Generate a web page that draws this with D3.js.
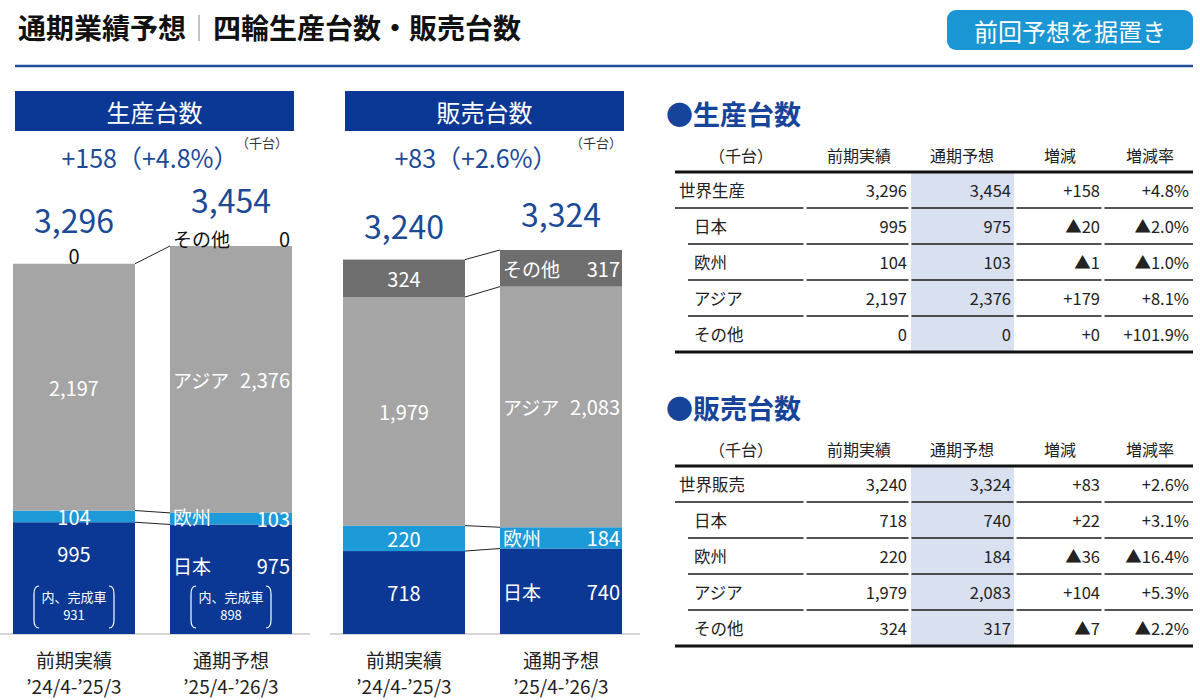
<!DOCTYPE html>
<html lang="ja">
<head>
<meta charset="utf-8">
<title>通期業績予想 四輪生産台数・販売台数</title>
<script src="https://d3js.org/d3.v7.min.js"></script>
<style>
  body{margin:0;background:#fff;font-family:"Noto Sans CJK JP","Noto Sans",sans-serif;}
  svg text{font-family:"Noto Sans CJK JP","Noto Sans",sans-serif;}
</style>
</head>
<body>
<div id="chart"></div>
<script>
// ---- data ----
const regions = ["日本","欧州","アジア","その他"]
const periods = ["前期実績","通期予想"]
const periodSpans = ["’24/4-’25/3","’25/4-’26/3"]

const prodPrev = [995,104,2197,0]
const prodPlan = [975,103,2376,0]
const prodTotals = [3296,3454]
const prodFinished = [931,898]

const salesPrev = [718,220,1979,324]
const salesPlan = [740,184,2083,317]
const salesTotals = [3240,3324]

const prodDiff = ["+158","▲20","▲1","+179","+0"]
const prodRate = ["+4.8%","▲2.0%","▲1.0%","+8.1%","+101.9%"]
const salesDiff = ["+83","+22","▲36","+104","▲7"]
const salesRate = ["+2.6%","+3.1%","▲16.4%","+5.3%","▲2.2%"]
const tableHead = ["（千台）","前期実績","通期予想","増減","増減率"]

// ---- setup ----
const W = 1200, H = 700
const navy = "#0b3894", textBlue = "#1b4a97"
const colors = {"日本":"#0b3894","欧州":"#1d9bd8","アジア":"#a5a5a5","その他":"#6e6e6e"}
const fmt = d3.format(",")

const svg = d3.select("#chart").append("svg")
  .attr("width",W).attr("height",H)

// title
svg.append("text").attr("x",18).attr("y",39)
  .attr("font-size",28).attr("font-weight","bold").attr("fill","#111").text("通期業績予想")
svg.append("line").attr("x1",199).attr("x2",199).attr("y1",15).attr("y2",41)
  .attr("stroke","#999").attr("stroke-width",1.2)
svg.append("text").attr("x",213).attr("y",39)
  .attr("font-size",28).attr("font-weight","bold").attr("fill","#111").text("四輪生産台数・販売台数")

svg.append("line").attr("x1",15).attr("x2",1193).attr("y1",66).attr("y2",66)
  .attr("stroke","#1f4f9c").attr("stroke-width",2.5)

svg.append("rect").attr("x",947).attr("y",10).attr("width",246).attr("height",40)
  .attr("rx",9).attr("fill","#1a96d4")
svg.append("text").attr("x",1070).attr("y",30).attr("text-anchor","middle")
  .attr("dominant-baseline","central").attr("font-size",24).attr("fill","#fff")
  .text("前回予想を据置き")

// ---- stacked bar panels ----
function drawPanel(cfg){
  const g = svg.append("g")
  const x = d3.scaleBand().domain(periods).range([cfg.x0,cfg.x1]).paddingInner(0.223)
  const y = d3.scaleLinear().domain([0,cfg.totals[1]]).range([634,cfg.topPx])
  const rows = periods.map((p,i)=>{
    const r = {period:p}
    regions.forEach((k,j)=>{ r[k] = i==0 ? cfg.prev[j] : cfg.plan[j] })
    return r
  })
  const layers = d3.stack().keys(regions)(rows)
  const bw = x.bandwidth()

  // header box
  g.append("rect").attr("x",cfg.x0+2).attr("y",91).attr("width",cfg.x1-cfg.x0).attr("height",40)
    .attr("fill",navy)
  g.append("text").attr("x",(cfg.x0+cfg.x1)/2+2).attr("y",111).attr("text-anchor","middle")
    .attr("dominant-baseline","central").attr("font-size",24).attr("fill","#fff").text(cfg.title)

  // change subtitle
  g.append("text").attr("x",cfg.subX).attr("y",168).attr("text-anchor","middle")
    .attr("font-size",25).attr("fill",textBlue).text(cfg.sub)
  g.append("text").attr("x",cfg.subX+cfg.noteDx).attr("y",148)
    .attr("font-size",13).attr("fill","#333").text("（千台）")

  // baseline
  g.append("line").attr("x1",cfg.x0-13).attr("x2",cfg.x1+18).attr("y1",y(0)).attr("y2",y(0))
    .attr("stroke","#c8c8c8").attr("stroke-width",1.5)

  // bars
  layers.forEach(layer=>{
    g.selectAll(null).data(layer).enter().append("rect")
      .attr("x",d=>x(d.data.period))
      .attr("y",d=>y(d[1]))
      .attr("width",bw)
      .attr("height",d=>y(d[0])-y(d[1]))
      .attr("fill",colors[layer.key])
  })

  // connector lines
  layers.forEach(layer=>{
    if(layer[0][1]-layer[0][0]==0 && layer[1][1]-layer[1][0]==0) return
    g.append("line")
      .attr("x1",x(periods[0])+bw).attr("y1",y(layer[0][1]))
      .attr("x2",x(periods[1])).attr("y2",y(layer[1][1]))
      .attr("stroke","#222").attr("stroke-width",1)
  })

  // segment labels
  layers.forEach(layer=>{
    layer.forEach((d,i)=>{
      const v = d[1]-d[0]
      const bx = x(d.data.period)
      let ly = (y(d[0])+y(d[1]))/2
      let col = "#fff"
      if(v==0){ ly = y(d[1])-8; col = "#111" }
      if(layer.key=="日本" && cfg.finished) ly = y(d[1])+cfg.jpOffset[i]
      if(i==0){
        g.append("text").attr("x",bx+bw/2).attr("y",ly).attr("text-anchor","middle")
          .attr("dominant-baseline","central").attr("font-size",20).attr("fill",col).text(fmt(v))
      }else{
        g.append("text").attr("x",bx+3).attr("y",ly-(layer.key=="欧州"&&cfg.finished?2:0))
          .attr("dominant-baseline","central").attr("font-size",19).attr("fill",col).text(layer.key)
        g.append("text").attr("x",bx+bw-2).attr("y",ly).attr("text-anchor","end")
          .attr("dominant-baseline","central").attr("font-size",20).attr("fill",col).text(fmt(v))
      }
    })
  })

  // finished-vehicle bracket
  if(cfg.finished){
    periods.forEach((p,i)=>{
      const cx = x(p)+bw/2, t = 586, b = 628, hw = 40
      g.append("path")
        .attr("d",`M${cx-hw+5},${t} Q${cx-hw},${t} ${cx-hw},${t+8} L${cx-hw},${b-8} Q${cx-hw},${b} ${cx-hw+5},${b}`)
        .attr("fill","none").attr("stroke","#fff").attr("stroke-width",1.2)
      g.append("path")
        .attr("d",`M${cx+hw-5},${t} Q${cx+hw},${t} ${cx+hw},${t+8} L${cx+hw},${b-8} Q${cx+hw},${b} ${cx+hw-5},${b}`)
        .attr("fill","none").attr("stroke","#fff").attr("stroke-width",1.2)
      g.append("text").attr("x",cx).attr("y",596).attr("text-anchor","middle")
        .attr("dominant-baseline","central").attr("font-size",13).attr("fill","#fff").text("内、完成車")
      g.append("text").attr("x",cx).attr("y",614).attr("text-anchor","middle")
        .attr("dominant-baseline","central").attr("font-size",13).attr("fill","#fff").text(cfg.finished[i])
    })
  }

  // totals
  periods.forEach((p,i)=>{
    g.append("text").attr("x",x(p)+bw/2).attr("y",y(cfg.totals[i])-cfg.totalOffset[i])
      .attr("text-anchor","middle").attr("font-size",32).attr("fill",textBlue).text(fmt(cfg.totals[i]))
  })

  // category labels
  periods.forEach((p,i)=>{
    g.append("text").attr("x",x(p)+bw/2).attr("y",668).attr("text-anchor","middle")
      .attr("font-size",19).attr("fill","#222").text(p)
    g.append("text").attr("x",x(p)+bw/2).attr("y",694).attr("text-anchor","middle")
      .attr("font-size",19).attr("fill","#222").text(periodSpans[i])
  })
}

drawPanel({x0:13,x1:292,topPx:246,title:"生産台数",sub:"+158（+4.8%）",subX:150,noteDx:86,
  prev:prodPrev,plan:prodPlan,totals:prodTotals,finished:prodFinished,jpOffset:[31,41],totalOffset:[31,33]})
drawPanel({x0:343,x1:622,topPx:250,title:"販売台数",sub:"+83（+2.6%）",subX:476,noteDx:94,
  prev:salesPrev,plan:salesPlan,totals:salesTotals,totalOffset:[21,23]})

// ---- tables ----
const colEdges = [675,805,910,1015,1103,1193]
function drawTable(cfg){
  const g = svg.append("g")
  const rowH = 36
  g.append("text").attr("x",666).attr("y",cfg.titleY).attr("dominant-baseline","central")
    .attr("font-size",27).attr("font-weight","bold").attr("fill","#16449a").text(cfg.title)

  const top = cfg.lineY
  const nRows = cfg.labels.length
  // highlighted forecast column
  g.append("rect").attr("x",colEdges[2]+1).attr("y",top).attr("width",colEdges[3]-colEdges[2]-2)
    .attr("height",rowH*nRows).attr("fill","#d9e0f0")

  // header
  const headX = [741,859,962,1060,1150]
  tableHead.forEach((h,i)=>{
    g.append("text").attr("x",headX[i]).attr("y",top-17).attr("text-anchor","middle")
      .attr("dominant-baseline","central").attr("font-size",16).attr("fill","#222").text(h)
  })

  // rows
  const cells = cfg.labels.map((lab,r)=>[lab,fmt(cfg.prev[r]),fmt(cfg.plan[r]),cfg.diff[r],cfg.rate[r]])
  const valX = [null,907,1011,1100,1189]
  cells.forEach((row,r)=>{
    const cy = top + rowH*r + rowH/2
    g.append("text").attr("x",r==0?679:694).attr("y",cy).attr("dominant-baseline","central")
      .attr("font-size",16.5).attr("fill","#222").text(row[0])
    for(let c=1;c<5;c++){
      g.append("text").attr("x",valX[c]).attr("y",cy).attr("text-anchor","end")
        .attr("dominant-baseline","central").attr("font-size",16.5).attr("fill","#222").text(row[c])
    }
  })

  // rules
  const rule = (yy,w,start)=>{
    for(let c=0;c<5;c++){
      const a = c==0 ? start : colEdges[c]+1.5
      const b = c==4 ? colEdges[5] : colEdges[c+1]-1.5
      g.append("line").attr("x1",a).attr("x2",b).attr("y1",yy).attr("y2",yy)
        .attr("stroke","#1a1a1a").attr("stroke-width",w)
    }
  }
  g.append("line").attr("x1",colEdges[0]).attr("x2",colEdges[5]).attr("y1",top).attr("y2",top)
    .attr("stroke","#111").attr("stroke-width",3)
  for(let r=1;r<nRows;r++) rule(top+rowH*r,1.5,r==1?675:688)
  g.append("line").attr("x1",colEdges[0]).attr("x2",colEdges[5]).attr("y1",top+rowH*nRows).attr("y2",top+rowH*nRows)
    .attr("stroke","#111").attr("stroke-width",3)
}

drawTable({title:"●生産台数",titleY:113,lineY:172,labels:["世界生産",...regions],
  prev:[prodTotals[0],...prodPrev],plan:[prodTotals[1],...prodPlan],diff:prodDiff,rate:prodRate})
drawTable({title:"●販売台数",titleY:407,lineY:466,labels:["世界販売",...regions],
  prev:[salesTotals[0],...salesPrev],plan:[salesTotals[1],...salesPlan],diff:salesDiff,rate:salesRate})
</script>
</body>
</html>
